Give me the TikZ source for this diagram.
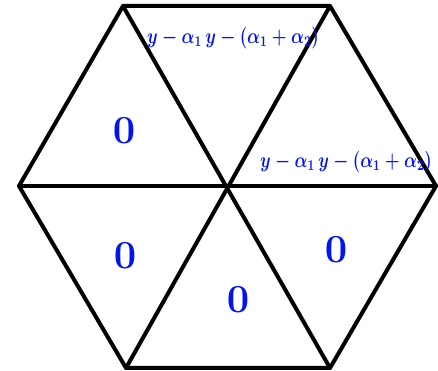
\documentclass[tikz,border=0pt]{standalone}
\usepackage{graphicx}
\definecolor{handblue}{RGB}{5,20,235}
\newcommand{\bigzero}{\scalebox{1.6}{\Huge\boldmath$0$}}
\newcommand{\handlbl}{\scalebox{1.18}[1.5]{\Large\boldmath$y-\alpha_1\,y-(\alpha_1+\alpha_2)$}}
\tikzset{
  edge/.style={line width=4pt, line join=round, line cap=round, black},
  lbl/.style={text=handblue, inner sep=0pt},
  zero/.style={text=handblue, inner sep=0pt}
}
\begin{document}
\begin{tikzpicture}[x=1pt,y=1pt]
\useasboundingbox (0,0) rectangle (438,371);
\coordinate (c) at (229,185);
\coordinate (tl) at (123,365);
\coordinate (tr) at (330,365);
\coordinate (r) at (436,185);
\coordinate (br) at (330,3);
\coordinate (bl) at (126,3);
\coordinate (l) at (19,185);
\draw[edge] (tl) -- (tr) -- (r) -- (br) -- (bl) -- (l) -- cycle;
\draw[edge] (tl) -- (br);
\draw[edge] (tr) -- (bl);
\draw[edge] (l) -- (r);
\node[lbl] (t1) at (233,333) {\handlbl};
\node[lbl] (t2) at (346,209) {\handlbl};
\node[zero] (z1) at (124,240) {\bigzero};
\node[zero] (z2) at (125,115) {\bigzero};
\node[zero] (z3) at (238,71) {\bigzero};
\node[zero] (z4) at (336,121) {\bigzero};
\end{tikzpicture}
\end{document}
